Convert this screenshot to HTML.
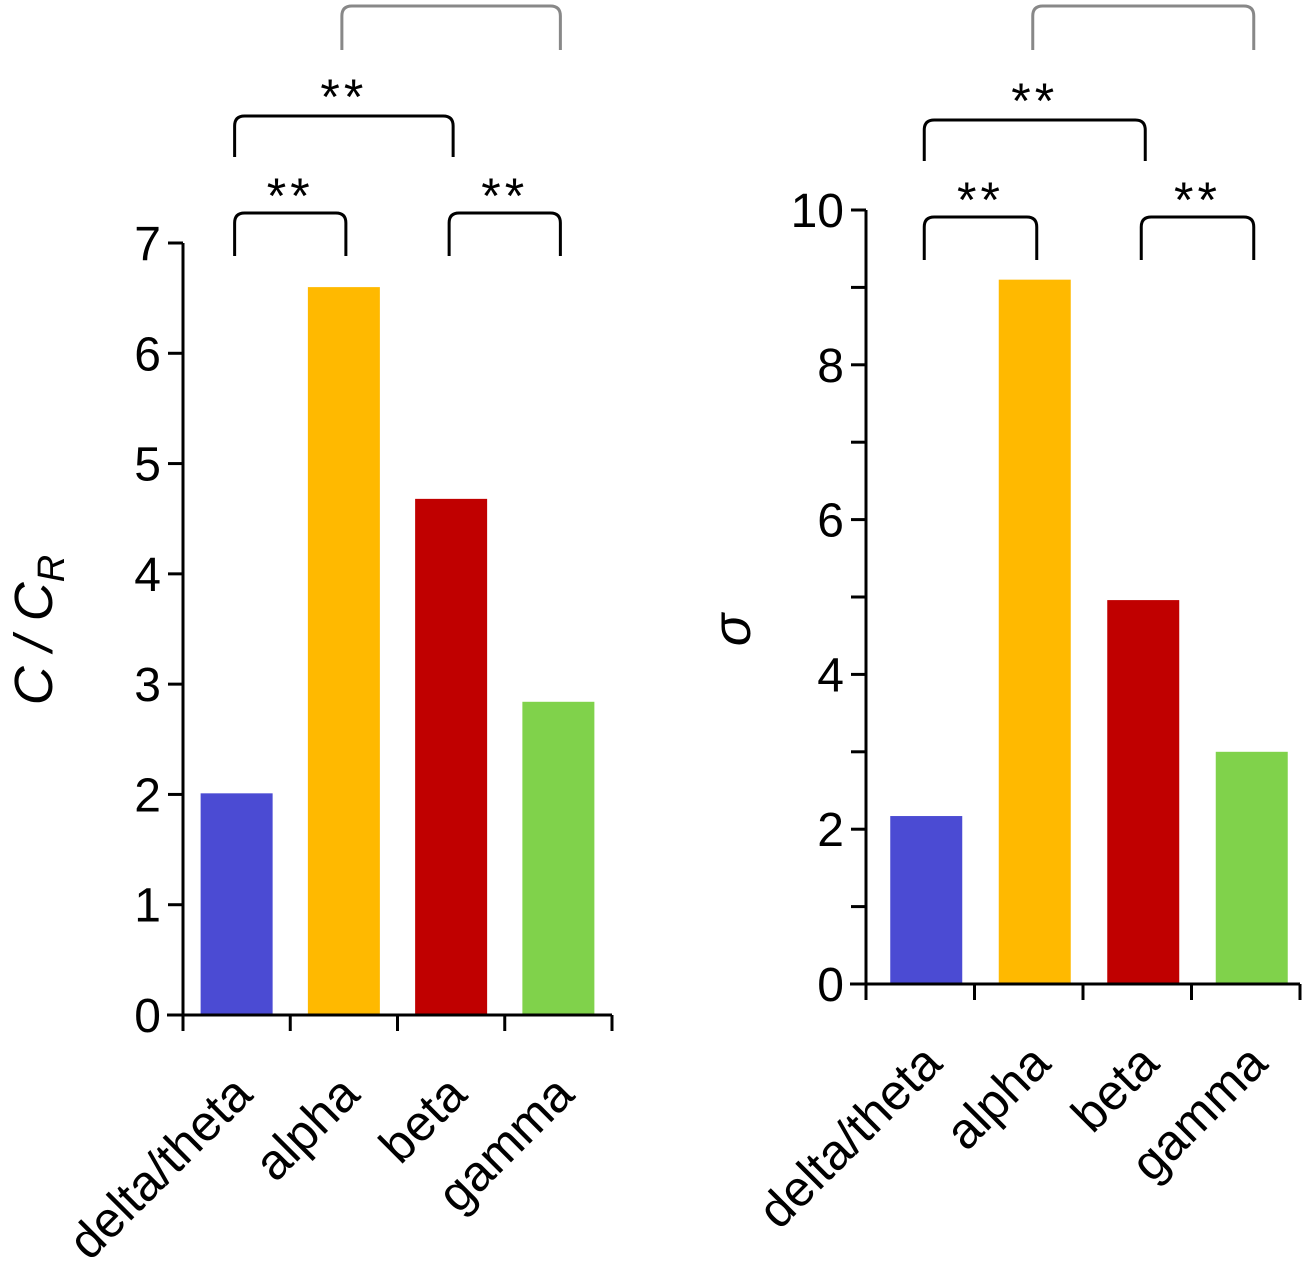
<!DOCTYPE html>
<html><head><meta charset="utf-8"><style>
html,body{margin:0;padding:0;background:#fff;}
svg{display:block;font-family:"Liberation Sans",Arial,sans-serif;}
</style></head><body>
<svg id="chart" width="1307" height="1284" viewBox="0 0 1307 1284" xmlns="http://www.w3.org/2000/svg"></svg>
<script>
const categories = ["delta/theta","alpha","beta","gamma"];
const colors = ["#4b4bd3","#ffb900","#c00000","#80d24b"];
const leftValues = [2.01, 6.6, 4.68, 2.84];
const rightValues = [2.17, 9.1, 4.96, 3.0];
const leftTicks = [0,1,2,3,4,5,6,7];
const rightTicks = [0,2,4,6,8,10];

const NS = "http://www.w3.org/2000/svg";
const svg = document.getElementById("chart");
function mk(tag, attrs, parent){
  const e = document.createElementNS(NS, tag);
  for (const k in attrs) e.setAttribute(k, attrs[k]);
  (parent||svg).appendChild(e);
  return e;
}

const panels = [
  {key:"left", values:leftValues, ticks:leftTicks, axX:183, yTop:243, yBot:1015, max:7, x0:183, step:107.25, shift:0, title:"C / C", sub:"R", titleX:52},
  {key:"right", values:rightValues, ticks:rightTicks, axX:866, yTop:210, yBot:984, max:10, x0:866, step:108.5, shift:6, title:"σ", sub:"", titleX:750}
];

panels.forEach(p=>{
  const g = mk("g",{});
  
  
  const y = v => p.yBot - (v/p.max)*(p.yBot-p.yTop);
  const c = i => p.x0 + p.step*(i+0.5) + p.shift;
  p.values.forEach((v,i)=>{
    const cx = c(i);
    const r = mk("rect",{x:cx-36, y:y(v), width:72, height:p.yBot-y(v), fill:colors[i]}, g);
    
    
    const t = mk("text",{x:0,y:0,"font-size":50,"text-anchor":"end",transform:`translate(${cx+18},${p.yBot+82}) rotate(-45)`,fill:"#000"}, g);
    t.textContent = categories[i];
    
    
  });
  const ya = mk("line",{x1:p.axX,y1:p.yTop,x2:p.axX,y2:p.yBot,stroke:"#000","stroke-width":3}, g);
  
  
  for(let v=0; v<=p.max; v+=1){
    mk("line",{x1:p.axX-15,y1:y(v),x2:p.axX,y2:y(v),stroke:"#000","stroke-width":3}, g);
  }
  p.ticks.forEach(v=>{
    const t = mk("text",{x:p.axX-22,y:y(v)+17,"font-size":48,"text-anchor":"end",fill:"#000"}, g);
    t.textContent = v;
    
    
  });
  const xEnd = p.x0 + p.step*4;
  const xa = mk("line",{x1:p.axX-16,y1:p.yBot,x2:xEnd,y2:p.yBot,stroke:"#000","stroke-width":3}, g);
  
  
  for(let i=0;i<=4;i++){
    const xx = p.x0 + p.step*i;
    mk("line",{x1:xx,y1:p.yBot,x2:xx,y2:p.yBot+16,stroke:"#000","stroke-width":3}, g);
  }
  const yt = mk("text",{x:0,y:0,"font-size":54,"font-style":"italic","text-anchor":"middle",transform:`translate(${p.titleX},630) rotate(-90)`,fill:"#000"}, g);
  
  
  yt.textContent = p.title;
  if(p.sub){
    const ts = mk("tspan",{"font-size":38,dy:12}, yt);
    ts.textContent = p.sub;
  }
  const off = p.key==="left" ? 0 : 4;
  const br = [
    {a:0,b:1,top:213+off,bot:256+off,col:"#000",star:true,sy:203+off},
    {a:2,b:3,top:213+off,bot:256+off,col:"#000",star:true,sy:203+off},
    {a:0,b:2,top:116+off,bot:157+off,col:"#000",star:true,sy:104+off},
    {a:1,b:3,top:6,bot:50,col:"#888",star:false}
  ];
  br.forEach(b=>{
    const x1=c(b.a)-2, x2=c(b.b)+2;
    const pth = mk("path",{d:`M${x1},${b.bot} L${x1},${b.top+10} Q${x1},${b.top} ${x1+10},${b.top} L${x2-10},${b.top} Q${x2},${b.top} ${x2},${b.top+10} L${x2},${b.bot}`,fill:"none",stroke:b.col,"stroke-width":3}, g);
    
    
    if(b.star){
      const s = mk("text",{x:(x1+x2)/2,y:b.sy+10,"font-size":50,"text-anchor":"middle","letter-spacing":"4",fill:"#000"}, g);
      s.textContent = "**";
      
      
    }
  });
});
</script>
</body></html>
